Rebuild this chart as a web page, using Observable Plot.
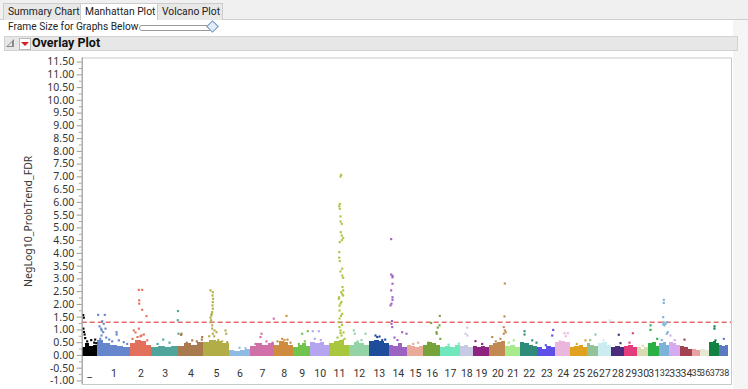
<!DOCTYPE html>
<html>
<head>
<meta charset="utf-8">
<script src="https://cdn.jsdelivr.net/npm/d3@7"></script>
<script src="https://cdn.jsdelivr.net/npm/@observablehq/plot@0.6"></script>
<style>
  html, body { margin: 0; padding: 0; }
  body { width: 748px; height: 389px; overflow: hidden; background: #f5f5f5; position: relative;
         font-family: Roboto, "Noto Sans", sans-serif; color: #222; }
  .abs { position: absolute; }
  #tabstrip { left: 0; top: 0; width: 748px; height: 20px; background: #f0f0f0; border-bottom: 1px solid #cfcfcf; box-sizing: border-box; }
  .tab { top: 3px; height: 17px; box-sizing: border-box; border: 1px solid #cdcdcd; border-bottom: none;
         font-size: 10.3px; line-height: 15px; padding-left: 4px; color: #222; background: #e8e8e8; white-space: nowrap; overflow: hidden; }
  .tab.sel { background: #fff; height: 18px; }
  #panel { left: 0; top: 20px; width: 733px; height: 369px; background: #fff; }
  #frameRow { left: 8px; top: 19px; font-size: 10.2px; line-height: 16px; color: #222; white-space: nowrap; }
  #track { left: 139px; top: 25px; width: 71px; height: 4px; border: 1px solid #9a9a9a; border-radius: 3px; background: #fff; }
  #knob { left: 208px; top: 22px; width: 7px; height: 7px; border: 1px solid #6f93c4; background: #e4edf8; transform: rotate(45deg); }
  #header { left: 4px; top: 36px; width: 734px; height: 15px; background: #e7e7e7; border: 1px solid #d2d2d2; box-sizing: border-box; }
  #disc { left: 6px; top: 39px; width: 0; height: 0; border-left: 8px solid transparent; border-bottom: 8px solid #8a8a8a; }
  #disc2 { left: 8px; top: 42px; width: 0; height: 0; border-left: 4px solid transparent; border-bottom: 4px solid #e7e7e7; }
  #redbtn { left: 19px; top: 38px; width: 10px; height: 10px; background: #fff; border: 1px solid #b9b9b9; }
  #redtri { left: 21px; top: 42px; width: 0; height: 0; border-left: 4px solid transparent; border-right: 4px solid transparent; border-top: 4px solid #d81e1e; }
  #htitle { left: 32px; top: 34px; font-size: 12.5px; font-weight: bold; line-height: 18px; color: #111; white-space: nowrap; }
  #chart { left: 0; top: 50px; }
</style>
</head>
<body>
<div id="tabstrip" class="abs"></div>
<div class="abs tab" style="left:3px;width:78px;">Summary Chart</div>
<div class="abs tab sel" style="left:80px;width:78px;">Manhattan Plot</div>
<div class="abs tab" style="left:157px;width:66px;">Volcano Plot</div>
<div id="panel" class="abs"></div>
<div id="frameRow" class="abs">Frame Size for Graphs Below</div>
<div id="track" class="abs"></div>
<div id="knob" class="abs"></div>
<div id="header" class="abs"></div>
<div id="disc" class="abs"></div>
<div id="disc2" class="abs"></div>
<div id="redbtn" class="abs"></div>
<div id="redtri" class="abs"></div>
<div id="htitle" class="abs">Overlay Plot</div>
<div id="chart" class="abs"></div>
<script>
// ---- data ----
const chromosomes = ["_", "1", "2", "3", "4", "5", "6", "7", "8", "9", "10", "11", "12", "13", "14", "15", "16", "17", "18", "19",
  "20", "21", "22", "23", "24", "25", "26", "27", "28", "29", "30", "31", "32", "33", "34", "35", "36", "37", "38"];

// span of each chromosome along the x axis (position units)
const chromLength = [15, 33.3, 21, 27.3, 24.4, 26.3, 21, 24, 19.3, 17, 18.7, 20, 19.7, 20.3, 17.7, 16.6, 16.7, 20, 12.7, 16.6,
  16, 14.7, 17.3, 18, 15, 16.4, 11.3, 13, 13, 13.3, 10.7, 11.3, 10, 10.7, 12, 8, 9.3, 10, 9];

const chromColors = ["#000000", "#6585cc", "#e3705c", "#4fa59b", "#a97a4e", "#b3ad48", "#8dbbe6", "#d06fa8", "#cf8c3e", "#72c24e",
  "#b5a5f0", "#a8c73c", "#93d3a6", "#1e4d9c", "#9c62c2", "#eaaa9a", "#76a33a", "#70e8bb", "#c9c9e3", "#8f2480",
  "#c28a52", "#a8eb8c", "#308c7a", "#5c50e6", "#ebb6dd", "#e0a21c", "#93c29a", "#cbecf0", "#4b2c7c", "#e23c7c",
  "#d9d9b2", "#2bb043", "#7ab2da", "#d5aaf1", "#a24252", "#e9a2a2", "#e8e8d2", "#128242", "#5a7ac2"];

// height of the dense cloud of low values, in sub-segments of each chromosome
const bandProfiles = [
  [0.3, 0.45, 0.35, 0.4], [0.6, 0.45, 0.4, 0.35, 0.3], [0.45, 0.6, 0.55, 0.4], [0.3, 0.35, 0.3, 0.35], [0.35, 0.45, 0.4, 0.5],
  [0.5, 0.6, 0.55, 0.45], [0.2, 0.15, 0.2, 0.25], [0.35, 0.45, 0.4, 0.45], [0.4, 0.55, 0.5, 0.4], [0.3, 0.4, 0.45, 0.35],
  [0.5, 0.45, 0.5, 0.4], [0.45, 0.55, 0.6, 0.4], [0.4, 0.5, 0.45, 0.4], [0.55, 0.6, 0.55, 0.45], [0.4, 0.35, 0.45, 0.3],
  [0.4, 0.35, 0.3, 0.35], [0.4, 0.5, 0.45, 0.4], [0.3, 0.35, 0.3, 0.4], [0.35, 0.4, 0.3], [0.35, 0.3, 0.35, 0.3],
  [0.4, 0.45, 0.5, 0.55], [0.35, 0.4, 0.3], [0.5, 0.45, 0.4, 0.35], [0.3, 0.25, 0.35, 0.3], [0.5, 0.55, 0.5],
  [0.3, 0.35, 0.4, 0.3], [0.45, 0.4, 0.35], [0.45, 0.5, 0.4], [0.3, 0.35, 0.3], [0.35, 0.4, 0.3],
  [0.3, 0.25, 0.3], [0.45, 0.5, 0.35], [0.45, 0.5, 0.4], [0.5, 0.45, 0.4], [0.35, 0.3, 0.25],
  [0.25, 0.2], [0.25, 0.2], [0.5, 0.55, 0.45], [0.4, 0.35, 0.4]
];

// individual markers above the cloud: [chromosome index, position within chromosome, NegLog10_ProbTrend_FDR]
const markers = [
  [0,1,1.58],[0,1.6,1.48],[0,1.2,1.05],[0,1.8,0.92],[0,2.4,0.82],[0,3,0.68],[0,5,0.55],[0,9,0.6],[0,12,0.5],[0,13,0.62],[0,14,0.48],
  [1,1,1.59],[1,7.6,1.59],[1,5,1.34],[1,6.5,1.24],[1,2.3,1.14],[1,4,1.05],[1,6,0.91],[1,4.5,0.98],[1,8.3,1.05],[1,4.3,0.78],
  [1,19.3,0.91],[1,19.5,0.82],[1,21.6,0.59],[1,26.6,0.52],[1,30,0.45],[1,12,0.62],[1,15,0.55],[1,9,0.7],[1,3,0.65],
  [2,8.3,2.57],[2,11.7,2.57],[2,8.7,2.16],[2,8.7,2.03],[2,11.7,1.79],[2,16,1.54],[2,3.3,0.98],[2,8.3,1.05],[2,11,0.78],
  [2,13.3,0.82],[2,16.7,0.59],[2,5,0.9],[2,2,0.65],[2,7,0.72],[2,10,0.75],
  [3,26.5,1.74],[3,26.3,1.38],[3,27,0.85],[3,11.7,0.62],[3,6,0.45],[3,18,0.5],
  [4,2.7,0.85],[4,2.3,0.8],[4,13.4,0.59],[4,23.4,0.72],[4,23,0.62],[4,8,0.5],[4,18,0.55],
  [5,7.3,2.55],[5,9.6,2.48],[5,9.3,2.35],[5,9.9,2.22],[5,9.6,2.09],[5,9.3,1.96],[5,9.6,1.83],[5,9,1.7],[5,8.5,1.62],[5,8,1.57],
  [5,7.3,1.48],[5,8,1.38],[5,7.3,1.3],[5,9,1.18],[5,9,1.05],[5,11.3,0.98],[5,9.6,0.85],[5,13.3,0.91],[5,22.3,0.98],[5,23,0.85],
  [5,24,0.52],[5,6,0.75],[5,11,0.75],[5,15,0.6],[5,19,0.55],
  [6,10,0.3],[6,16,0.28],
  [7,11,0.85],[7,10,0.72],[7,23.3,1.44],[7,16,0.55],[7,22,0.5],[7,5,0.45],
  [8,12,1.55],[8,7.7,0.65],[8,10,0.6],[8,13,0.62],[8,3,0.55],[8,16,0.5],
  [9,8.4,0.85],[9,14,0.95],[9,11,0.55],[9,5,0.45],
  [10,2,0.95],[10,8,0.95],[10,4,0.65],[10,10,0.6],
  [11,11.7,7.08],[11,11,7.01],[11,10.3,5.94],[11,9.8,5.85],[11,10.3,5.75],[11,11,5.45],[11,11,5.25],[11,12.3,5.16],[11,11.3,4.83],
  [11,12.3,4.7],[11,13.7,4.6],[11,12.3,4.52],[11,10.3,4.44],[11,9.7,4.05],[11,9.7,3.83],[11,10.3,3.7],[11,12.7,3.4],[11,11,3.29],
  [11,12.7,3.13],[11,13.7,3.04],[11,13,2.68],[11,13.7,2.55],[11,11.7,2.48],[11,9.7,2.28],[11,13.7,2.35],[11,12.7,2.4],[11,9.3,2.22],
  [11,11,2.03],[11,12,2.1],[11,10,1.95],[11,10,1.76],[11,12.7,1.63],[11,11.5,1.55],[11,9.3,1.3],[11,10,1.45],[11,10,1.11],
  [11,11,0.98],[11,12,0.78],[11,13.3,0.59],[11,8,0.7],[11,15,0.65],[11,12.5,1.2],[11,11,0.88],[11,14,0.9],
  [12,4.3,0.98],[12,5.3,0.85],[12,16,0.85],[12,12,0.6],[12,8,0.55],
  [13,6.3,0.78],[13,8,0.72],[13,10.3,0.74],[13,13,0.6],[13,16,0.62],
  [14,1.7,4.56],[14,1.7,3.17],[14,3,3.12],[14,3,3.06],[14,3,2.81],[14,1.7,2.55],[14,3,2.28],[14,3,2.18],[14,2,2.03],[14,1,1.96],
  [14,2,1.24],[14,2.7,1.11],[14,12.7,0.91],[14,17,0.85],[14,8,0.6],[14,5,0.7],[14,2.5,1.35],
  [15,6,0.45],[15,11,0.5],
  [16,16,1.55],[16,7.4,1.27],[16,15.7,1.18],[16,14,1.09],[16,12.7,0.91],[16,13,0.85],[16,16.5,0.65],[16,5,0.5],
  [17,18.3,0.46],[17,8,0.42],
  [18,6.7,1.09],[18,5,0.85],[18,7,0.78],
  [19,2.3,0.56],[19,9,0.45],
  [20,15,2.82],[20,14.7,1.53],[20,14,1.11],[20,15,0.98],[20,16,0.91],[20,14,0.85],[20,10.7,0.65],[20,2.4,0.72],[20,6,0.55],
  [21,8,0.59],[21,3,0.5],
  [22,4,0.95],[22,4,0.82],[22,11.7,0.59],[22,16,0.5],
  [23,15.4,1.0],[23,14.4,0.78],[23,8,0.4],
  [24,8.7,0.87],[24,12,0.87],[24,10,0.75],[24,4,0.55],
  [25,14.7,0.59],[25,6,0.45],
  [26,8.3,0.82],[26,3,0.6],
  [27,11.3,1.37],[27,5,0.6],
  [28,7.3,0.81],[28,9,0.48],
  [29,8.3,0.87],[29,5,0.5],
  [30,5,0.38],
  [31,2,1.18],[31,2,1.0],[31,8.7,0.65],
  [32,4,2.18],[32,4,2.06],[32,3.4,1.5],[32,4,1.3],[32,3.4,1.22],[32,5.7,1.24],[32,7.4,1.3],[32,4.7,1.18],[32,8,0.91],[32,7,0.85],[32,2,0.6],
  [33,0.7,0.78],[33,5,0.6],
  [34,4,0.62],
  [37,4.7,1.14],[37,4.7,1.05],[37,5.7,0.59],
  [38,4,0.65]
];

const threshold = 1.301; // -log10(0.05)
const yTickValues = d3.range(-1, 11.51, 0.5);
const yMinorTickValues = d3.range(-0.75, 11.5, 0.5);
const yLabel = "NegLog10_ProbTrend_FDR";

// ---- derived tables ----
const starts = [];
let acc = 0;
chromLength.forEach(s => { starts.push(acc); acc += s; });
const bands = [];
bandProfiles.forEach((prof, i) => {
  const w = chromLength[i] / prof.length;
  prof.forEach((h, j) => bands.push({chr: chromosomes[i], x1: starts[i] + j * w, x2: starts[i] + (j + 1) * w, h}));
});
const pts = markers.map(([c, p, v]) => ({chr: chromosomes[c], x: starts[c] + p, v}));
const labels = chromosomes.map((c, i) => ({chr: c, x: starts[i] + chromLength[i] / 2, span: chromLength[i]}));

const chart = Plot.plot({
  width: 748, height: 339,
  marginLeft: 81.7, marginRight: 17, marginTop: 7.5, marginBottom: 5,
  x: {domain: [0, acc + 2.7], axis: null},
  y: {domain: [-1.14, 11.66], axis: null},
  color: {domain: chromosomes, range: chromColors},
  style: {fontFamily: "'Noto Sans', 'Open Sans', sans-serif", fontSize: "10.5px", color: "#333", background: "transparent", overflow: "visible"},
  marks: [
    Plot.frame({stroke: "#c9c9c9", fill: "#fff"}),
    Plot.rect(bands, {x1: "x1", x2: "x2", y1: -0.04, y2: "h", fill: "chr", shapeRendering: "crispEdges"}),
    Plot.ruleY([threshold], {stroke: "#e46c6c", strokeDasharray: "5,3", strokeWidth: 1.3}),
    Plot.dot(pts, {x: "x", y: "v", fill: "chr", symbol: "square", r: 1.2}),
    Plot.text(labels, {x: "x", y: -0.71, text: "chr", fill: "#333",
      fontSize: d => (d.span < 10.5 ? 9 : 10.5),
      fontFamily: "Roboto, sans-serif", letterSpacing: "-0.8px"}),
    Plot.axisY(yTickValues, {tickSize: 5, stroke: "#999", fill: "#333", tickPadding: 3,
      tickFormat: d => d.toFixed(2), label: yLabel, labelAnchor: "center", labelArrow: "none", labelOffset: 58}),
    Plot.axisY(yMinorTickValues, {tickSize: 3, stroke: "#aaa", text: null, label: null}),
    Plot.ruleX([0], {stroke: "#999"})
  ]
});
document.getElementById("chart").appendChild(chart);
</script>
</body>
</html>
